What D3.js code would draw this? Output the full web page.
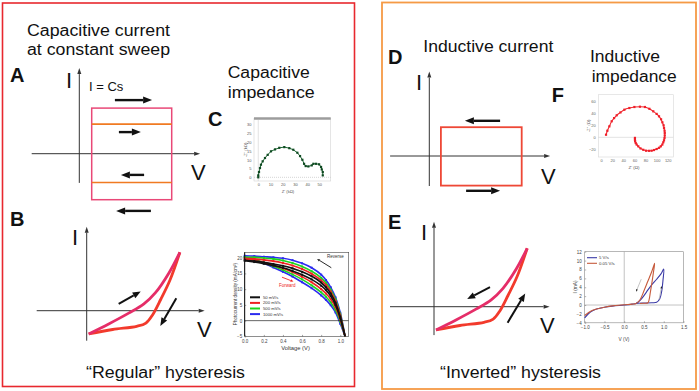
<!DOCTYPE html>
<html>
<head>
<meta charset="utf-8">
<script src="https://cdn.jsdelivr.net/npm/d3@7"></script>
<style>
body { margin: 0; background: #fff; }
svg { display: block; font-family: "Liberation Sans", Arial, sans-serif; }
</style>
</head>
<body>
<svg id="fig" width="699" height="391"></svg>
<script>
// ---------- schematic sketches (arbitrary units, origin = 0,0) ----------
const capRectV = [0.31, 2.31];
const capRectI = [-1.15, 1.14];
const capLevelsI = [0.74, -0.72];
const capArrows = [[0.89, 1.34, 1.82, 1.34], [0.99, 0.54, 1.54, 0.54], [1.62, -0.53, 1.04, -0.53], [1.79, -1.43, 0.92, -1.43]];
const indRectV = [0.29, 2.31];
const indRectI = [-0.74, 0.72];
const indArrows = [[1.77, 0.88, 0.89, 0.88], [0.92, -0.87, 1.77, -0.87]];
const loopUpper = [[0.05, -0.58], [0.55, -0.33], [1.05, -0.06], [1.43, 0.17], [1.72, 0.45], [2.06, 0.95], [2.33, 1.46]];
const loopLower = [[0.05, -0.58], [0.65, -0.47], [1.25, -0.39], [1.48, -0.31], [1.65, -0.1], [1.85, 0.28], [2.08, 0.76], [2.33, 1.46]];
const regularArrows = [[0.80, 0.17, 1.35, 0.48], [2.24, 0.31, 1.84, -0.38]];
const invertedArrows = [[1.40, 0.49, 0.83, 0.19], [1.84, -0.40, 2.28, 0.33]];

// ---------- C: capacitive impedance (Z' vs -Z'', kOhm) ----------
const capZre = [0, 0, 0.6, 1.4, 2.2, 3.6, 5.5, 7.7, 10.4, 13.7, 17.2, 21.3, 25.4, 28.7, 32, 34.2, 36.1, 37.5, 38.8, 41, 43.8, 45.1, 47.3, 49.8, 51.4, 52, 52.8, 52.8];
const capZim = [0, 1.1, 3, 5.3, 7.2, 9.1, 11, 12.8, 14.8, 15.9, 16.8, 17.2, 16.6, 15.7, 14, 12.1, 10, 7.7, 6.4, 6.2, 6.8, 7.7, 7.7, 7.4, 5.9, 4.5, 3, 1.1];

// ---------- F: inductive impedance (Z' vs -Z'', Ohm) ----------
const indZre = [9, 11.4, 15, 19.2, 23.5, 28.2, 35, 42, 51, 60, 70, 79, 87, 94, 100, 104.3, 108, 110.3, 112.5, 113.3, 114.3, 114.6, 114.6, 114.2, 113.3, 112, 110.3, 107.5, 104.3, 100, 95.3, 91, 86.3, 81, 76, 71, 67, 64, 62.4, 61.3, 61, 61];
const indZim = [4.3, 11, 18.3, 26.7, 32, 36.7, 41.5, 46, 48.8, 50.5, 51, 50.5, 47.5, 43.3, 39, 35, 30, 25, 20, 15.5, 11, 7.2, 3, -1.2, -5, -8.3, -12, -15, -17.5, -19.5, -21.2, -22.3, -22.5, -22.3, -20.8, -18.5, -15, -12, -9.5, -6.5, -4, -1];

// ---------- B inset: J-V curves at several scan rates ----------
const jvV = [0, 0.1, 0.2, 0.3, 0.4, 0.5, 0.6, 0.7, 0.8, 0.85, 0.9, 0.95, 1.0, 1.05];
const jvRates = ["50 mV/s", "200 mV/s", "500 mV/s", "1000 mV/s"];
const jvColors = ["#111111", "#ee2222", "#1ed41e", "#2b2bef"];
const jvReverse = [
  [19.2, 18.9, 18.5, 18.0, 17.4, 16.6, 15.5, 14.1, 12.1, 10.6, 8.6, 5.7, 1.2, -5],
  [19.8, 19.6, 19.3, 18.9, 18.3, 17.5, 16.4, 14.9, 12.8, 11.3, 9.2, 6.2, 1.6, -5],
  [20.2, 20.1, 19.9, 19.6, 19.1, 18.3, 17.2, 15.7, 13.6, 12.0, 9.8, 6.8, 2.0, -5],
  [20.6, 20.5, 20.3, 20.1, 19.8, 19.2, 18.2, 16.8, 14.6, 12.9, 10.6, 7.4, 2.5, -5]
];
const jvForward = [
  [19.0, 18.6, 18.1, 17.5, 16.8, 15.8, 14.6, 13.1, 11.1, 9.7, 7.8, 5.0, 0.8, -5],
  [19.6, 19.1, 18.4, 17.6, 16.6, 15.4, 13.9, 12.2, 10.0, 8.6, 6.8, 4.3, 0.3, -5],
  [20.0, 19.3, 18.4, 17.3, 16.1, 14.7, 13.1, 11.2, 9.0, 7.6, 5.8, 3.4, -0.3, -5],
  [20.3, 19.4, 18.2, 16.9, 15.5, 14.0, 12.2, 10.3, 8.0, 6.6, 4.9, 2.6, -1.0, -5]
];

// ---------- E inset: I-V loops at two scan rates ----------
const ivNames = ["5 V/s", "0.05 V/s"];
const ivColors = ["#3a3aa6", "#c65a3c"];
const ivFast = [[-1.0, -2.9], [-0.9, -1.9], [-0.8, -1.3], [-0.7, -0.9], [-0.5, -0.5], [-0.3, -0.25], [0, 0], [0.2, 0.2], [0.35, 0.4], [0.5, 0.45], [0.7, 0.5], [0.82, 0.6], [0.9, 1.4], [0.95, 3.2], [0.98, 5.5], [1.0, 8.1], [0.93, 7.0], [0.82, 5.8], [0.7, 4.6], [0.6, 3.4], [0.5, 2.1], [0.42, 1.2], [0.36, 0.7], [0.3, 0.4]];
const ivSlow = [[-1.0, -2.4], [-0.9, -1.7], [-0.8, -1.2], [-0.7, -0.9], [-0.5, -0.5], [-0.3, -0.2], [0, 0.05], [0.2, 0.2], [0.3, 0.35], [0.4, 1.2], [0.5, 3.2], [0.6, 5.4], [0.7, 7.6], [0.77, 9.4], [0.74, 7.4], [0.70, 5.0], [0.66, 2.8], [0.63, 1.2], [0.6, 0.5], [0.5, 0.4], [0.4, 0.35]];
const ivArrows = [[0.43, 5.8, 0.30, 3.0], [0.88, 1.2, 0.95, 4.3]];

const svg = d3.select("#fig");

function arrow(g, x0, y0, x1, y1, opt) {
  const { color = "#111", width = 2.4, headLen = 9, headW = 7, shaft = color } = opt || {};
  const a = Math.atan2(y1 - y0, x1 - x0);
  const bx = x1 - headLen * Math.cos(a), by = y1 - headLen * Math.sin(a);
  g.append("line").attr("x1", x0).attr("y1", y0).attr("x2", bx).attr("y2", by)
    .attr("stroke", shaft).attr("stroke-width", width);
  const nx = -Math.sin(a) * headW / 2, ny = Math.cos(a) * headW / 2;
  g.append("path").attr("d", `M${x1},${y1}L${bx + nx},${by + ny}L${bx - nx},${by - ny}Z`).attr("fill", color);
}

function label(x, y, txt, size, len, weight) {
  const t = svg.append("text").attr("x", x).attr("y", y).attr("font-size", size)
    .attr("fill", "#111").text(txt);
  if (len) t.attr("textLength", len).attr("lengthAdjust", "spacingAndGlyphs");
  if (weight) t.attr("font-weight", weight);
  return t;
}

// schematic axes with origin at (ox, oy); 1 unit = 40 px
function schematic(ox, oy, vExt, iExt) {
  const x = d3.scaleLinear().domain([0, 1]).range([ox, ox + 40]);
  const y = d3.scaleLinear().domain([0, 1]).range([oy, oy - 40]);
  const g = svg.append("g");
  arrow(g, x(vExt[0]), y(0), x(vExt[1]), y(0), { color: "#333", width: 1, headLen: 6, headW: 4 });
  arrow(g, x(0), y(iExt[0]), x(0), y(iExt[1]), { color: "#333", width: 1, headLen: 6, headW: 4 });
  return { g, x, y };
}

// panel borders
svg.append("rect").attr("x", 2.5).attr("y", 3).attr("width", 352).attr("height", 383.5)
  .attr("fill", "none").attr("stroke", "#e8282e").attr("stroke-width", 1.6);
svg.append("rect").attr("x", 382).attr("y", 2.5).attr("width", 314).attr("height", 386.5)
  .attr("fill", "none").attr("stroke", "#f59a45").attr("stroke-width", 1.8);

// ---------- A ----------
{
  const { g, x, y } = schematic(79.3, 153.7, [-1.19, 3.02], [-0.73, 2.14]);
  g.append("rect").attr("x", x(capRectV[0])).attr("y", y(capRectI[1]))
    .attr("width", x(capRectV[1]) - x(capRectV[0])).attr("height", y(capRectI[0]) - y(capRectI[1]))
    .attr("fill", "none").attr("stroke", "#e94877").attr("stroke-width", 1.5);
  capLevelsI.forEach(v => g.append("line").attr("x1", x(capRectV[0])).attr("x2", x(capRectV[1]))
    .attr("y1", y(v)).attr("y2", y(v)).attr("stroke", "#f07a22").attr("stroke-width", 1.6));
  capArrows.forEach(a => arrow(g, x(a[0]), y(a[1]), x(a[2]), y(a[3])));
}
label(27, 36, "Capacitive current", 16, 143);
label(27, 55, "at constant sweep", 16, 143);
label(10, 82, "A", 20, null, "bold");
label(66, 88, "I", 22);
label(89, 91, "I = Cs", 13);
label(191, 180, "V", 22);

// ---------- B ----------
const loopLine = (x, y) => d3.line().x(d => x(d[0])).y(d => y(d[1])).curve(d3.curveCatmullRom.alpha(0.5));
function drawLoop(ox, oy, vExt, iExt, arrows) {
  const { g, x, y } = schematic(ox, oy, vExt, iExt);
  g.append("path").attr("d", loopLine(x, y)(loopLower)).attr("fill", "none")
    .attr("stroke", "#f23a2c").attr("stroke-width", 2.8).attr("stroke-linejoin", "round");
  g.append("path").attr("d", loopLine(x, y)(loopUpper)).attr("fill", "none")
    .attr("stroke", "#e52d68").attr("stroke-width", 2.8).attr("stroke-linejoin", "round");
  arrows.forEach(a => arrow(g, x(a[0]), y(a[1]), x(a[2]), y(a[3]), { width: 2, headLen: 8, headW: 6.5 }));
}
drawLoop(86.7, 310.7, [-1.25, 2.95], [-0.75, 2.1], regularArrows);
label(10, 226, "B", 20, null, "bold");
label(72, 245, "I", 22);
label(197, 337, "V", 22);
label(86, 378, "\u201CRegular\u201D hysteresis", 16, 159);

// ---------- C inset ----------
{
  const x = d3.scaleLinear().domain([-3.5, 59.3]).range([254, 330.7]);
  const y = d3.scaleLinear().domain([-2.1, 33.5]).range([181, 118.5]);
  const g = svg.append("g");
  g.append("rect").attr("x", 254).attr("y", 118.5).attr("width", 76.7).attr("height", 62.5)
    .attr("fill", "none").attr("stroke", "#d4d4d4").attr("stroke-width", 0.6);
  g.append("line").attr("x1", 254).attr("x2", 330.7).attr("y1", 118.5).attr("y2", 118.5)
    .attr("stroke", "#9c9c9c").attr("stroke-width", 2.4);
  g.append("line").attr("x1", x(0)).attr("x2", x(0)).attr("y1", 120).attr("y2", 181)
    .attr("stroke", "#cfcfcf").attr("stroke-width", 0.6);
  g.append("line").attr("x1", 254).attr("x2", 330.7).attr("y1", y(0)).attr("y2", y(0))
    .attr("stroke", "#bbb").attr("stroke-width", 0.6).attr("stroke-dasharray", "1,1");
  const ax = g.append("g").attr("transform", "translate(0,181)")
    .call(d3.axisBottom(x).tickValues([0, 10, 20, 30, 40, 50]).tickSize(0).tickPadding(2.5));
  const ay = g.append("g").attr("transform", "translate(254,0)")
    .call(d3.axisLeft(y).tickValues([0, 5, 10, 15, 20, 25, 30]).tickSize(0).tickPadding(2.5));
  [ax, ay].forEach(a => { a.select(".domain").remove(); a.selectAll("text").attr("font-size", 4).attr("fill", "#555"); a.attr("font-family", null); });
  g.append("text").attr("x", 288).attr("y", 192.5).attr("font-size", 4.2).attr("fill", "#555")
    .attr("text-anchor", "middle").text("Z' (k\u03A9)");
  g.append("text").attr("transform", "translate(246.5,150) rotate(-90)").attr("font-size", 4.2)
    .attr("fill", "#555").attr("text-anchor", "middle").text("-Z'' (k\u03A9)");
  const pts = capZre.map((v, i) => [v, capZim[i]]);
  g.append("path").attr("d", d3.line().x(d => x(d[0])).y(d => y(d[1]))(pts))
    .attr("fill", "none").attr("stroke", "#1f6a35").attr("stroke-width", 1);
  g.selectAll("rect.pt").data(pts).join("rect").attr("class", "pt")
    .attr("x", d => x(d[0]) - 1.1).attr("y", d => y(d[1]) - 1.1).attr("width", 2.2).attr("height", 2.2)
    .attr("fill", "#0f4a22");
}
label(227.7, 77.7, "Capacitive", 16, 82);
label(227.7, 98, "impedance", 16, 87);
label(208, 126, "C", 20, null, "bold");

// ---------- B inset: J-V ----------
{
  const x = d3.scaleLinear().domain([0, 1.088]).range([244.7, 348.7]);
  const y = d3.scaleLinear().domain([-5, 21.7]).range([336.4, 252.3]);
  const g = svg.append("g");
  const line = d3.line().x((d, i) => x(jvV[i])).y(d => y(d)).curve(d3.curveMonotoneX);
  for (let k = jvRates.length - 1; k >= 0; k--) {
    [jvReverse[k], jvForward[k]].forEach(s => {
      g.append("path").attr("d", line(s)).attr("fill", "none")
        .attr("stroke", jvColors[k]).attr("stroke-width", 1.6);
      g.selectAll(null).data(s.slice(0, -1)).join("rect")
        .attr("x", (d, i) => x(jvV[i]) - 1).attr("y", d => y(d) - 1)
        .attr("width", 2).attr("height", 2).attr("fill", jvColors[k]);
    });
  }
  g.append("line").attr("x1", 244.7).attr("x2", 348.7).attr("y1", y(0)).attr("y2", y(0))
    .attr("stroke", "#222").attr("stroke-width", 0.7);
  g.append("rect").attr("x", 244.7).attr("y", 252.3).attr("width", 104).attr("height", 84.1)
    .attr("fill", "none").attr("stroke", "#444").attr("stroke-width", 0.6);
  g.append("line").attr("x1", 244.7).attr("x2", 244.7).attr("y1", 252.3).attr("y2", 336.4)
    .attr("stroke", "#111").attr("stroke-width", 1);
  const ax = g.append("g").attr("transform", "translate(0,336.4)")
    .call(d3.axisBottom(x).tickValues([0, 0.2, 0.4, 0.6, 0.8, 1.0]).tickFormat(d3.format(".1f")).tickSize(-1.5).tickPadding(3));
  const ay = g.append("g").attr("transform", "translate(244.7,0)")
    .call(d3.axisLeft(y).tickValues([-5, 0, 5, 10, 15, 20]).tickSize(-1.5).tickPadding(2.5));
  [ax, ay].forEach(a => { a.select(".domain").remove(); a.selectAll("line").attr("stroke", "#444").attr("stroke-width", 0.5); a.selectAll("text").attr("font-size", 4.5).attr("fill", "#444"); a.attr("font-family", null); });
  g.append("text").attr("x", 295.5).attr("y", 350).attr("font-size", 5.8).attr("fill", "#333")
    .attr("text-anchor", "middle").text("Voltage (V)");
  g.append("text").attr("transform", "translate(236.5,294) rotate(-90)").attr("font-size", 4.6)
    .attr("fill", "#333").attr("text-anchor", "middle").text("Photocurrent density (mA/cm\u00B2)");
  jvRates.forEach((r, k) => {
    const ly = 297.3 + k * 5.6;
    g.append("line").attr("x1", 250).attr("x2", 260).attr("y1", ly).attr("y2", ly)
      .attr("stroke", jvColors[k]).attr("stroke-width", 2);
    g.append("text").attr("x", 263).attr("y", ly + 1.5).attr("font-size", 4.2).attr("fill", "#333").text(r);
  });
  arrow(g, x(0.906), y(16.8), x(0.757), y(19.6), { width: 0.9, headLen: 3, headW: 2.5 });
  g.append("text").attr("x", x(0.86)).attr("y", y(20)).attr("font-size", 4.5).attr("fill", "#333").text("Reverse");
  arrow(g, x(0.39), y(13.8), x(0.51), y(12.4), { color: "#ee2222", width: 0.9, headLen: 3, headW: 2.5 });
  g.append("text").attr("x", x(0.36)).attr("y", y(10.6)).attr("font-size", 4.5).attr("fill", "#ee2222").text("Forward");
}

// ---------- D ----------
{
  const { g, x, y } = schematic(429.3, 156, [-0.98, 3.02], [-0.75, 2.11]);
  g.append("rect").attr("x", x(indRectV[0])).attr("y", y(indRectI[1]))
    .attr("width", x(indRectV[1]) - x(indRectV[0])).attr("height", y(indRectI[0]) - y(indRectI[1]))
    .attr("fill", "none").attr("stroke", "#ee4836").attr("stroke-width", 1.8);
  indArrows.forEach(a => arrow(g, x(a[0]), y(a[1]), x(a[2]), y(a[3])));
}
label(423.3, 52.3, "Inductive current", 16, 130);
label(388, 64, "D", 20, null, "bold");
label(416, 90, "I", 22);
label(541, 183.5, "V", 22);

// ---------- F inset ----------
{
  const x = d3.scaleLinear().domain([-4.9, 130]).range([598.3, 673.3]);
  const y = d3.scaleLinear().domain([-32.8, 71]).range([157, 94.7]);
  const g = svg.append("g");
  g.append("rect").attr("x", 598.3).attr("y", 94.7).attr("width", 75).attr("height", 62.3)
    .attr("fill", "none").attr("stroke", "#d8d8d8").attr("stroke-width", 0.6);
  g.append("line").attr("x1", 598.3).attr("x2", 673.3).attr("y1", y(0)).attr("y2", y(0))
    .attr("stroke", "#d0d0d0").attr("stroke-width", 0.6);
  const ax = g.append("g").attr("transform", "translate(0,157)")
    .call(d3.axisBottom(x).tickValues([0, 20, 40, 60, 80, 100, 120]).tickSize(0).tickPadding(2.5));
  const ay = g.append("g").attr("transform", "translate(598.3,0)")
    .call(d3.axisLeft(y).tickValues([-20, 0, 20, 40, 60]).tickSize(0).tickPadding(2.5));
  [ax, ay].forEach(a => { a.select(".domain").remove(); a.selectAll("text").attr("font-size", 4).attr("fill", "#666"); a.attr("font-family", null); });
  g.append("text").attr("x", 634).attr("y", 169).attr("font-size", 4.4).attr("fill", "#555")
    .attr("text-anchor", "middle").text("Z' (\u03A9)");
  g.append("text").attr("transform", "translate(589.5,126) rotate(-90)").attr("font-size", 4.2)
    .attr("fill", "#555").attr("text-anchor", "middle").text("-Z'' (\u03A9)");
  const pts = indZre.map((v, i) => [v, indZim[i]]);
  g.append("path").attr("d", d3.line().x(d => x(d[0])).y(d => y(d[1])).curve(d3.curveCatmullRom)(pts))
    .attr("fill", "none").attr("stroke", "#f0282c").attr("stroke-width", 1.1);
  g.selectAll("rect.pt").data(pts).join("rect").attr("class", "pt")
    .attr("x", d => x(d[0]) - 1.1).attr("y", d => y(d[1]) - 1.1).attr("width", 2.2).attr("height", 2.2)
    .attr("fill", "#ef1f2a");
}
label(590, 61.7, "Inductive", 16, 70);
label(591.7, 81.7, "impedance", 16, 85);
label(551.7, 101.7, "F", 20, null, "bold");

// ---------- E ----------
drawLoop(434, 306.7, [-1.1, 2.89], [-0.71, 2.125], invertedArrows);
label(388, 229.3, "E", 20, null, "bold");
label(421, 240, "I", 22);
label(540, 333, "V", 22);
label(440, 378, "\u201CInverted\u201D hysteresis", 16, 161);

// ---------- E inset ----------
{
  const x = d3.scaleLinear().domain([-1, 1.5]).range([584.7, 683.5]);
  const y = d3.scaleLinear().domain([-4, 12]).range([322.8, 251.7]);
  const g = svg.append("g");
  g.append("rect").attr("x", 584.7).attr("y", 251.7).attr("width", 98.8).attr("height", 71.1)
    .attr("fill", "none").attr("stroke", "#888").attr("stroke-width", 0.6);
  g.append("line").attr("x1", x(0)).attr("x2", x(0)).attr("y1", 251.7).attr("y2", 322.8)
    .attr("stroke", "#999").attr("stroke-width", 0.6);
  g.append("line").attr("x1", 584.7).attr("x2", 683.5).attr("y1", y(0)).attr("y2", y(0))
    .attr("stroke", "#999").attr("stroke-width", 0.6);
  const ax = g.append("g").attr("transform", "translate(0,322.8)")
    .call(d3.axisBottom(x).tickValues([-1.0, -0.5, 0.0, 0.5, 1.0, 1.5]).tickFormat(d3.format(".1f")).tickSize(-1.5).tickPadding(3));
  const ay = g.append("g").attr("transform", "translate(584.7,0)")
    .call(d3.axisLeft(y).tickValues([-4, -2, 0, 2, 4, 6, 8, 10, 12]).tickSize(-1.5).tickPadding(3));
  [ax, ay].forEach(a => { a.select(".domain").remove(); a.selectAll("line").attr("stroke", "#666").attr("stroke-width", 0.5); a.selectAll("text").attr("font-size", 4.5).attr("fill", "#444"); a.attr("font-family", null); });
  g.append("text").attr("x", 624).attr("y", 341).attr("font-size", 4.8).attr("fill", "#444")
    .attr("text-anchor", "middle").text("V (V)");
  g.append("text").attr("transform", "translate(576.5,287) rotate(-90)").attr("font-size", 4.8)
    .attr("fill", "#444").attr("text-anchor", "middle").text("I (mA)");
  const line = d3.line().x(d => x(d[0])).y(d => y(d[1])).curve(d3.curveCatmullRom.alpha(0.5));
  [ivFast, ivSlow].forEach((s, k) => g.append("path").attr("d", line(s)).attr("fill", "none")
    .attr("stroke", ivColors[k]).attr("stroke-width", 1.1));
  ivNames.forEach((n, k) => {
    const ly = 257.7 + k * 5.6;
    g.append("line").attr("x1", 587).attr("x2", 597).attr("y1", ly).attr("y2", ly)
      .attr("stroke", ivColors[k]).attr("stroke-width", 1.1);
    g.append("text").attr("x", 599).attr("y", ly + 1.5).attr("font-size", 4.3).attr("fill", "#333").text(n);
  });
  ivArrows.forEach(a => arrow(g, x(a[0]), y(a[1]), x(a[2]), y(a[3]),
    { color: "#222", shaft: "#aaa", width: 0.7, headLen: 2.5, headW: 2 }));
}
</script>
</body>
</html>
